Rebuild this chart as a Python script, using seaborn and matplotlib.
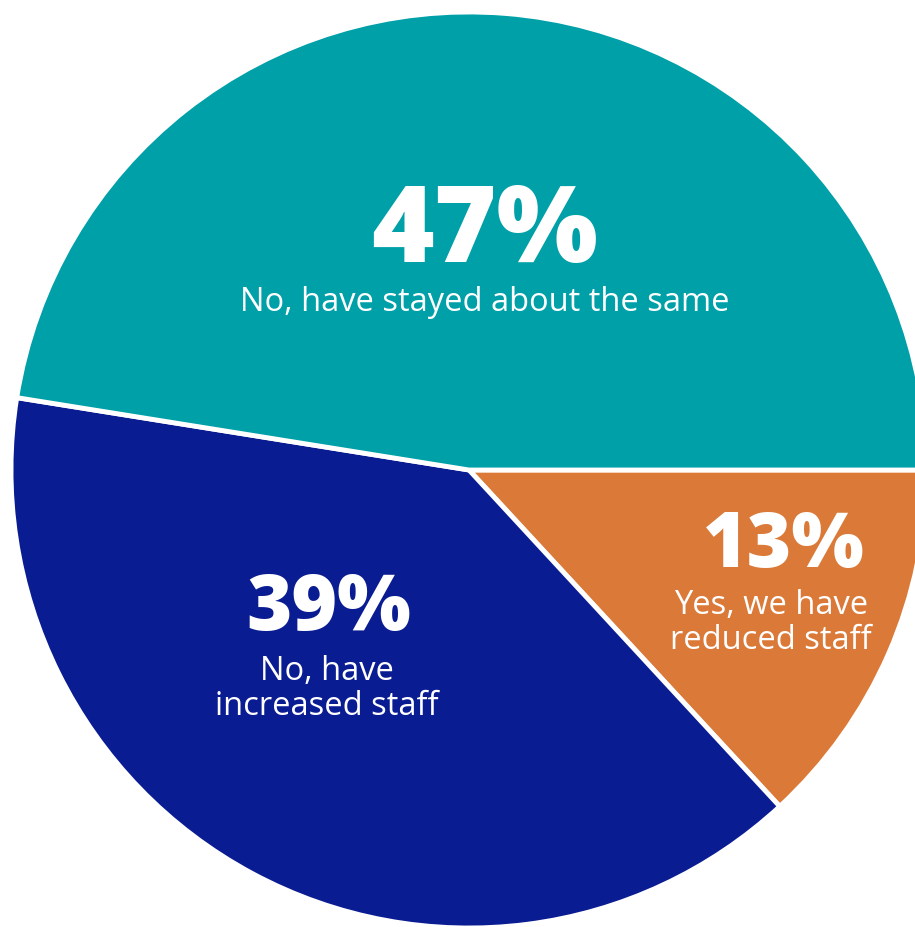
import matplotlib
matplotlib.use("Agg")
import matplotlib.pyplot as plt
import seaborn as sns

sns.set_style("white")
plt.rcParams["font.family"] = ["Open Sans", "DejaVu Sans"]

# Survey responses: have staffing levels been reduced?
categories = ["Yes, we have\nreduced staff", "No, have\nincreased staff", "No, have stayed about the same"]
shares = [13, 39, 47]
pct_labels = ["13%", "39%", "47%"]
colors = ["#DB7A38", "#0A1C92", "#00A0A8"]

W, H = 915, 927
fig = plt.figure(figsize=(W / 100, H / 100), dpi=100)
ax = fig.add_axes([0, 0, 1, 1])

cx, cy, r = 469, H - 470, 458
wedges, _ = ax.pie(
    shares,
    colors=colors,
    startangle=0,
    counterclock=False,
    center=(cx, cy),
    radius=r,
    frame=True,
    wedgeprops=dict(edgecolor="white", linewidth=3.5),
)
ax.set_xlim(0, W)
ax.set_ylim(0, H)
ax.set_aspect("equal")
ax.axis("off")

# label positions (pixel coords from top-left) and sizes per slice
pct_pos = [(784, 547), (329, 610), (485, 234)]
pct_size = [55, 56, 77]
cat_pos = [(771, 623), (327, 689), (485, 302)]
cat_size = [23.5, 23.5, 23.5]
for i in range(3):
    px, py = pct_pos[i]
    ax.text(px, H - py, pct_labels[i], color="white", fontsize=pct_size[i],
            fontweight="heavy", ha="center", va="center")
    qx, qy = cat_pos[i]
    ax.text(qx, H - qy, categories[i], color="white", fontsize=cat_size[i],
            ha="center", va="center", linespacing=1.05)

fig.savefig("out.png", dpi=100, facecolor="white")
